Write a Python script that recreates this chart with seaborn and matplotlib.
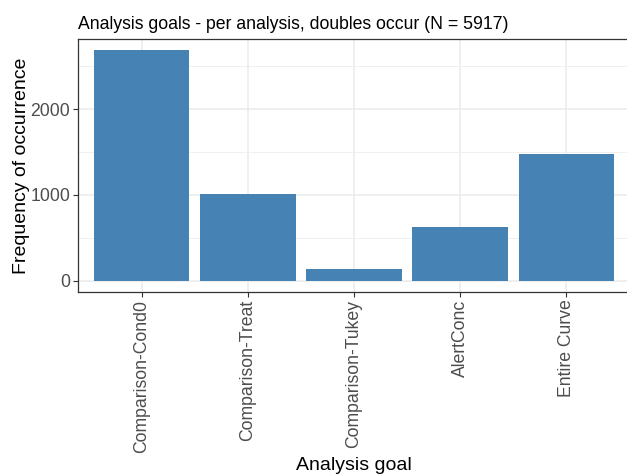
import matplotlib
matplotlib.use("Agg")
import matplotlib.pyplot as plt
from matplotlib.ticker import MultipleLocator
import seaborn as sns
import pandas as pd

# data
goals = ["Comparison-Cond0", "Comparison-Treat", "Comparison-Tukey", "AlertConc", "Entire Curve"]
counts = [2686, 1012, 140, 628, 1477]

df = pd.DataFrame({"goal": goals, "count": counts})

sns.set_theme(style="whitegrid")
plt.rcParams["font.family"] = ["Liberation Sans", "DejaVu Sans"]

fig = plt.figure(figsize=(6.27, 4.74), dpi=100)
ax = fig.add_axes([78 / 627, 1 - 292 / 474, 552 / 627, 253 / 474])

sns.barplot(data=df, x="goal", y="count", color="#4682B4", width=0.9,
            saturation=1, linewidth=0, edgecolor="none", ax=ax, zorder=3)

ax.set_xlim(-0.6, 4.6)
ax.set_ylim(-134, 2820)
ax.yaxis.set_major_locator(MultipleLocator(1000))
ax.yaxis.set_minor_locator(MultipleLocator(500))

ax.set_facecolor("white")
ax.grid(which="major", color="#EBEBEB", linewidth=1.1, zorder=0)
ax.grid(which="minor", axis="y", color="#F0F0F0", linewidth=0.7, zorder=0)
ax.set_axisbelow(True)
for s in ax.spines.values():
    s.set_color("#333333")
    s.set_linewidth(0.9)

ax.tick_params(axis="both", which="major", length=3.5, width=0.8, color="#333333",
               labelsize=12.7, labelcolor="#4D4D4D", pad=2, bottom=True, left=True)
ax.tick_params(axis="both", which="minor", length=0)
plt.setp(ax.get_xticklabels(), rotation=90, ha="center", va="top")

ax.set_xlabel("Analysis goal", fontsize=14, color="black", labelpad=3)
ax.set_ylabel("Frequency of occurrence", fontsize=14, color="black", labelpad=0.5)
ax.set_title("Analysis goals - per analysis, doubles occur (N = 5917)",
             loc="left", fontsize=12.7, color="black", pad=7)

fig.savefig("out.png", dpi=100)
